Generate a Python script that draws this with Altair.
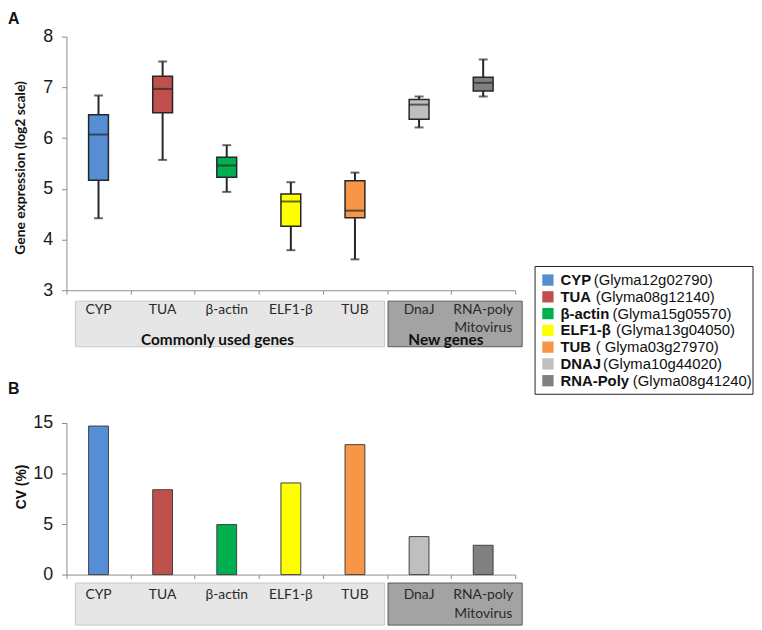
import altair as alt
import pandas as pd

# ---------------- data ----------------
genes = ["CYP", "TUA", "β-actin", "ELF1-β", "TUB", "DnaJ", "RNA-poly"]
label_line2 = ["", "", "", "", "", "", "Mitovirus"]
colors = ["#558ED5", "#C0504D", "#00B050", "#FFFF00", "#F79646", "#BFBFBF", "#808080"]

whisker_low = [4.42, 5.57, 4.94, 3.79, 3.61, 6.21, 6.82]
q1 = [5.17, 6.50, 5.23, 4.26, 4.43, 6.37, 6.93]
median = [6.07, 6.97, 5.46, 4.75, 4.57, 6.66, 7.09]
q3 = [6.46, 7.22, 5.62, 4.90, 5.16, 6.76, 7.20]
whisker_high = [6.84, 7.51, 5.86, 5.13, 5.32, 6.82, 7.55]

cv = [14.7, 8.4, 4.95, 9.07, 12.86, 3.76, 2.9]

legend_names = ["CYP", "TUA", "β-actin", "ELF1-β", "TUB", "DNAJ", "RNA-Poly"]
legend_ids = ["(Glyma12g02790)", "(Glyma08g12140)", "(Glyma15g05570)", "(Glyma13g04050)",
              "( Glyma03g27970)", "(Glyma10g44020)", "(Glyma08g41240)"]

y_ticks_a = [3, 4, 5, 6, 7, 8]
y_ticks_b = [0, 5, 10, 15]

# ---------------- layout (pixels) ----------------
W = 453
H_A = 256
H_B = 153
SPACING = 134
BW = W / len(genes)
LEG_FS = 15
# approximate rendered widths of the bold legend names (Arial bold) + a space
name_w = {"CYP": 33.5, "TUA": 35.5, "β-actin": 52.5, "ELF1-β": 56, "TUB": 35.5,
          "DNAJ": 43, "RNA-Poly": 73}
LEG_X0, LEG_X1, LEG_Y0, LEG_Y1 = 473, 693, 232, 361
LEG_ROW0, LEG_ROWSTEP = 245.7, 16.93

TICK_FONT = "Liberation Sans"
CAT_FONT = "Lato"
GRAY = "#8c8c8c"
DARK = "#262626"

box_df = pd.DataFrame({"gene": genes, "lo": whisker_low, "q1": q1, "med": median,
                       "q3": q3, "hi": whisker_high, "line2": label_line2})
bar_df = pd.DataFrame({"gene": genes, "cv": cv, "line2": label_line2})
leg_df = pd.DataFrame({"name": legend_names, "gid": legend_ids, "col": colors,
                       "row": list(range(len(legend_names)))})
leg_df["xoff"] = [LEG_X0 + 25.7 + name_w[n] for n in legend_names]

x_enc = alt.X("gene:N", sort=genes,
              scale=alt.Scale(domain=genes, paddingInner=0, paddingOuter=0),
              axis=alt.Axis(labels=False, title=None, tickBand="extent", tickSize=4,
                            tickColor=GRAY, domainColor=GRAY, tickWidth=1, domainWidth=1))
color_enc = alt.Color("gene:N", scale=alt.Scale(domain=genes, range=colors), legend=None)


def y_axis(values, title, tx, ty, tfont, tsize):
    return alt.Axis(values=values, title=title, grid=False, tickSize=5, tickColor=GRAY,
                    domainColor=GRAY, labelFont=TICK_FONT, labelFontSize=18,
                    labelColor="#1a1a1a", labelPadding=9, titleFont=tfont,
                    titleFontSize=tsize, titleFontWeight="bold", titleColor="#111",
                    titleX=tx, titleY=ty, titleAngle=-90, titleAlign="center",
                    titleBaseline="bottom")


A_TITLE = "Gene expression  (log2 scale)"
ya_scale = alt.Scale(domain=[3, 8], nice=False, zero=False)
ya_axis = y_axis(y_ticks_a, A_TITLE, -39, 132, CAT_FONT, 14)


def YA(field):
    return alt.Y(field + ":Q", scale=ya_scale, axis=ya_axis, title=A_TITLE)


def group_boxes(y0, y1):
    light = alt.Chart(alt.Data(values=[{}])).mark_rect(
        fill="#E6E6E6", stroke="#C8C8C8", strokeWidth=1).encode(
        x=alt.value(9), x2=alt.value(5 * BW - 2.5), y=alt.value(y0), y2=alt.value(y1))
    dark = alt.Chart(alt.Data(values=[{}])).mark_rect(
        fill="#A3A3A3", stroke="#5A5A5A", strokeWidth=1).encode(
        x=alt.value(5 * BW + 1), x2=alt.value(7 * BW + 7), y=alt.value(y0), y2=alt.value(y1))
    return [light, dark]


def cat_labels(df, y1, y2):
    t1 = alt.Chart(df).mark_text(font=CAT_FONT, fontSize=14, color="#2a2a2a",
                                 baseline="middle").encode(
        x=x_enc, y=alt.value(y1), text="gene:N")
    t2 = alt.Chart(df).mark_text(font=CAT_FONT, fontSize=14, color="#2a2a2a",
                                 baseline="middle").encode(
        x=x_enc, y=alt.value(y2), text="line2:N")
    return [t1, t2]


def panel_letter(letter, y):
    return alt.Chart(alt.Data(values=[{}])).mark_text(
        font=TICK_FONT, fontSize=16, fontWeight="bold", align="left", baseline="top",
        color="#111").encode(x=alt.value(-59), y=alt.value(y), text=alt.value(letter))


# ---------------- panel A ----------------
base_a = alt.Chart(box_df)
whisk = base_a.mark_rule(color=DARK, strokeWidth=2).encode(x=x_enc, y=YA("lo"), y2="hi:Q")
box = base_a.mark_bar(size=20, stroke=DARK, strokeWidth=1.5).encode(
    x=x_enc, y=YA("q1"), y2="q3:Q", color=color_enc)
med = base_a.mark_tick(size=20, thickness=2, color=DARK).encode(x=x_enc, y=YA("med"))
cap_lo = base_a.mark_tick(size=9, thickness=2, color=DARK).encode(x=x_enc, y=YA("lo"))
cap_hi = base_a.mark_tick(size=9, thickness=2, color=DARK).encode(x=x_enc, y=YA("hi"))

grp_a = group_boxes(267, 313)
lab_a = cat_labels(box_df, 276, 294)
grp_titles = alt.Chart(pd.DataFrame({"t": ["Commonly used genes", "New genes"],
                                     "xp": [152.5, 383]})).mark_text(
    font=CAT_FONT, fontSize=15.5, fontWeight="bold", color="#111", baseline="middle").encode(
    x=alt.X("xp:Q", scale=alt.Scale(domain=[0, W], range=[0, W]), axis=None),
    y=alt.value(306), text="t:N")

main_a = alt.layer(*grp_a, *lab_a, whisk, box, med, cap_lo, cap_hi, panel_letter("A", -26))

# legend (drawn as marks)
leg_y = alt.Y("row:Q", scale=alt.Scale(domain=[0, len(legend_names) - 1],
                                       range=[LEG_ROW0, LEG_ROW0 + 6 * LEG_ROWSTEP]), axis=None)
leg_frame = alt.Chart(alt.Data(values=[{}])).mark_rect(
    fill="white", stroke="#222", strokeWidth=1).encode(
    x=alt.value(LEG_X0), x2=alt.value(LEG_X1), y=alt.value(LEG_Y0), y2=alt.value(LEG_Y1))
leg_sw = alt.Chart(leg_df).mark_square(size=130, opacity=1, shape="M-1,-0.9H1V0.9H-1Z").encode(
    x=alt.value(LEG_X0 + 13), y=leg_y, fill=alt.Color("col:N", scale=None))
leg_bold = alt.Chart(leg_df).mark_text(font=TICK_FONT, fontSize=LEG_FS, fontWeight="bold",
                                       align="left", baseline="middle", color="#111").encode(
    x=alt.value(LEG_X0 + 25.7), y=leg_y, text="name:N")
leg_norm = alt.Chart(leg_df).mark_text(font=TICK_FONT, fontSize=LEG_FS, align="left",
                                       baseline="middle", color="#111").encode(
    x=alt.X("xoff:Q", scale=alt.Scale(domain=[0, 1000], range=[0, 1000]), axis=None),
    y=leg_y, text="gid:N")
legend = alt.layer(leg_frame, leg_sw, leg_bold, leg_norm)

top = alt.layer(main_a, grp_titles, legend).resolve_scale(
    x="independent", y="independent", color="independent").properties(width=W, height=H_A)

# ---------------- panel B ----------------
yb_axis = y_axis(y_ticks_b, "CV (%)", -38, 64, TICK_FONT, 14)
bars = alt.Chart(bar_df).mark_bar(size=20, stroke="#404040", strokeWidth=1).encode(
    x=x_enc,
    y=alt.Y("cv:Q", scale=alt.Scale(domain=[0, 15], nice=False), axis=yb_axis),
    color=color_enc)
grp_b = group_boxes(161.5, 204)
lab_b = cat_labels(bar_df, 173.5, 192.7)
bottom = alt.layer(*grp_b, *lab_b, bars, panel_letter("B", -42)).properties(width=W, height=H_B)

chart = alt.vconcat(top, bottom, spacing=SPACING).properties(
    bounds="flush", padding=0).configure_view(stroke=None)

chart.save("out.html", embed_options={"renderer": "svg", "actions": False})
